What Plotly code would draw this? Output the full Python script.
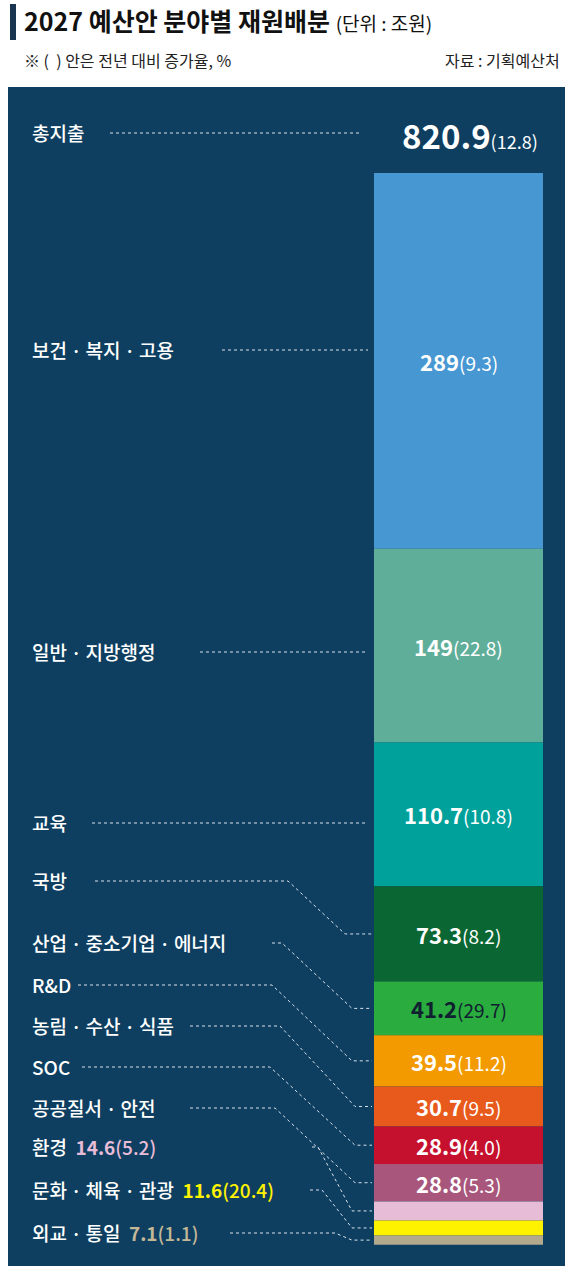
import plotly.graph_objects as go

categories = ["보건 · 복지 · 고용", "일반 · 지방행정", "교육", "국방", "산업 · 중소기업 · 에너지", "R&D",
              "농림 · 수산 · 식품", "SOC", "공공질서 · 안전", "환경", "문화 · 체육 · 관광", "외교 · 통일"]
values = [289, 149, 110.7, 73.3, 41.2, 39.5, 30.7, 28.9, 28.8, 14.6, 11.6, 7.1]
growth = ["9.3", "22.8", "10.8", "8.2", "29.7", "11.2", "9.5", "4.0", "5.3", "5.2", "20.4", "1.1"]
total_value = 820.9
total_growth = "12.8"
colors = ["#4797d3", "#5fae99", "#00a19b", "#0a6733", "#2aac3e", "#f29a00", "#e8591c", "#c6112e",
          "#a8567c", "#e7bcd7", "#fff200", "#b3aa8e"]

W, H = 570, 1274
TOP, SCALE = 173, 1.3
BOTTOM = TOP + sum(values) * SCALE
y_lo = -(H - BOTTOM) / SCALE
y_hi = BOTTOM / SCALE
def py(p):
    return (BOTTOM - p) / SCALE

FONT = "Noto Sans CJK KR"
NAVY = "#0e3f61"
fig = go.Figure()

base = sum(values)
mids = []
for c, v, col in zip(categories, values, colors):
    fig.add_trace(go.Bar(x=[458.5], y=[v], base=[base - v], width=169, marker=dict(color=col, line_width=0),
                         showlegend=False, hoverinfo="skip", name=c))
    mids.append(base - v / 2)
    base -= v

shapes = [dict(type="rect", xref="paper", yref="paper", x0=8 / W, x1=565 / W, y0=1 - 1266 / H, y1=1 - 87 / H,
               fillcolor=NAVY, line_width=0, layer="below"),
          dict(type="rect", xref="paper", yref="paper", x0=10 / W, x1=16 / W, y0=1 - 40 / H, y1=1 - 4 / H,
               fillcolor="#1a3550", line_width=0)]
ann = []
dot = dict(color="#d8e2ea", width=1, dash="dot")

def tight(s):
    return s.replace(" · ", "\u2009·\u2009")

def label(txt, x, p, size=19, color="white"):
    ann.append(dict(x=x, y=py(p), text=txt, showarrow=False, xanchor="left", yanchor="middle",
                    font=dict(family=FONT, size=size, color=color, weight=500)))

label("총지출", 30, 132)
shapes.append(dict(type="line", x0=110, x1=362, y0=py(133), y1=py(133), line=dot))
ann.append(dict(x=540, y=py(135), xanchor="right", yanchor="middle", showarrow=False,
                text=f"<b>{total_value}</b><span style='font-size:18px'>({total_growth})</span>",
                font=dict(family=FONT, size=33, color="white")))

straight = [(349, 222), (651, 200), (822, 92)]
for i, (p, xe) in enumerate(straight):
    label(tight(categories[i]), 30, p)
    shapes.append(dict(type="line", x0=xe, x1=368, y0=py(p + 1), y1=py(p + 1), line=dot))

bent = [(880, 95, 288, 345, "", None),
        (942, 272, 282, 352, "", None),
        (984, 78, 272, 352, "", None),
        (1025, 190, 280, 355, "", None),
        (1066, 82, 270, 355, "", None),
        (1107, 190, 275, 355, "", None),
        (1146, 312, 318, 352, f"<b>{values[9]}</b>({growth[9]})", "#e7bcd7"),
        (1189, 310, 322, 352, f"<b>{values[10]}</b>({growth[10]})", "#fff200"),
        (1232, 230, 335, 352, f"<b>{values[11]}</b>({growth[11]})", "#c3b896")]
for k, (p, xe, x1, x2, extra, ecol) in enumerate(bent):
    i = k + 3
    txt = tight(categories[i])
    if extra:
        txt += f"  <span style='color:{ecol}'>{extra}</span>"
    label(txt, 30, p)
    yt = mids[i]
    shapes.append(dict(type="path", path=f"M {xe},{py(p + 1)} L {x1},{py(p + 1)} L {x2},{yt} L 372,{yt}", line=dot))

for i in range(9):
    tc = "#102030" if i == 4 else "white"
    ann.append(dict(x=458.5, y=mids[i], showarrow=False, xanchor="center", yanchor="middle",
                    text=f"<b>{values[i]:g}</b><span style='font-size:19px'>({growth[i]})</span>",
                    font=dict(family=FONT, size=22, color=tc)))

ann += [dict(x=22 / W, y=1 - 20 / H, xref="paper", yref="paper", xanchor="left", yanchor="middle", showarrow=False,
             text="<b>2027 예산안 분야별 재원배분</b> <span style='font-size:19px'>(단위 : 조원)</span>",
             font=dict(family=FONT, size=25, color="#111")),
        dict(x=22 / W, y=1 - 60 / H, xref="paper", yref="paper", xanchor="left", yanchor="middle", showarrow=False,
             text="※ (  ) 안은 전년 대비 증가율, %", font=dict(family=FONT, size=16, color="#222")),
        dict(x=562 / W, y=1 - 60 / H, xref="paper", yref="paper", xanchor="right", yanchor="middle", showarrow=False,
             text="자료 : 기획예산처", font=dict(family=FONT, size=16, color="#222"))]

fig.update_layout(width=W, height=H, margin=dict(l=0, r=0, t=0, b=0), paper_bgcolor="white",
                  plot_bgcolor="rgba(0,0,0,0)", shapes=shapes, annotations=ann, barmode="overlay",
                  xaxis=dict(range=[0, W], visible=False, fixedrange=True),
                  yaxis=dict(range=[y_lo, y_hi], visible=False, fixedrange=True))
fig.write_html("out.html", config={"displayModeBar": False})

with open("out.html", encoding="utf-8") as f:
    html = f.read()
html = html.replace("<head>", "<head><style>html,body{margin:0;padding:0;overflow:hidden}</style>", 1)
with open("out.html", "w", encoding="utf-8") as f:
    f.write(html)
